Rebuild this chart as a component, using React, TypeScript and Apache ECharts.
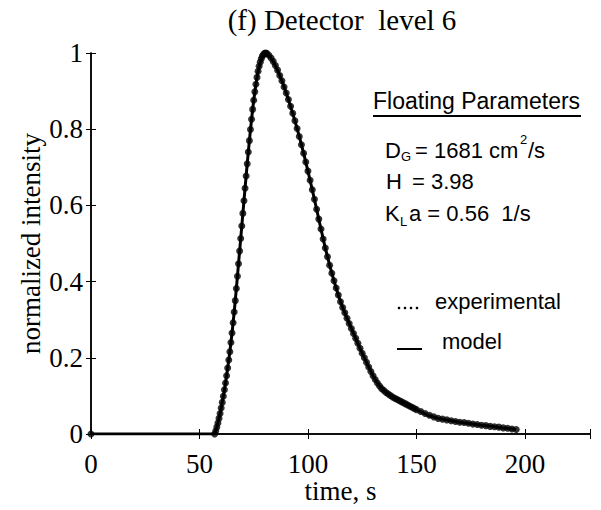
import React, { useEffect, useRef } from "react";
import * as echarts from "echarts";

// ---- Data ----
const expTime = [
  0,
  57, 57.5, 58, 58.5, 59, 59.5, 60, 60.5, 61, 61.5, 62, 62.5, 63, 63.5, 64, 64.5,
  65, 65.5, 66, 66.5, 67, 67.5, 68, 68.5, 69, 69.5, 70, 70.5, 71, 71.5, 72, 72.5,
  73, 73.5, 74, 74.5, 75, 75.5, 76, 76.5, 77, 77.5, 78, 78.5, 79, 79.5, 80, 80.5,
  81, 82, 83, 84, 85, 86, 87, 88, 89, 90, 91, 92, 93, 94, 95, 96, 97, 98, 99, 100,
  101, 102, 103, 104, 105, 106, 107, 108, 109, 110, 111, 112, 113, 114, 115, 116,
  117, 118, 119, 120, 121, 122, 123, 124, 125, 126, 127, 128, 129, 130, 131, 132,
  133, 134, 135, 136, 137, 138, 139, 140, 141, 142, 143, 144, 145, 146, 147, 148,
  149, 150, 152, 154, 156, 158, 160, 162, 164, 166, 168, 170, 172, 174, 176, 178,
  180, 182, 184, 186, 188, 190, 192, 194, 196,
];
const expIntensity = [
  0,
  0.0, 0.008, 0.018, 0.029, 0.041, 0.054, 0.068, 0.083, 0.099, 0.116, 0.134, 0.153, 0.173, 0.194, 0.216, 0.24,
  0.265, 0.292, 0.32, 0.35, 0.382, 0.414, 0.447, 0.48, 0.513, 0.546, 0.579, 0.612, 0.645, 0.677, 0.709, 0.74,
  0.77, 0.799, 0.826, 0.852, 0.876, 0.898, 0.918, 0.936, 0.952, 0.965, 0.976, 0.985, 0.992, 0.996, 0.999, 1.0,
  0.999, 0.994, 0.987, 0.978, 0.967, 0.955, 0.941, 0.927, 0.911, 0.895, 0.878, 0.86, 0.842, 0.822, 0.802, 0.781, 0.759, 0.737, 0.714, 0.69,
  0.666, 0.641, 0.616, 0.59, 0.564, 0.538, 0.512, 0.488, 0.465, 0.443, 0.422, 0.402, 0.383, 0.365, 0.347, 0.332,
  0.318, 0.304, 0.29, 0.277, 0.264, 0.251, 0.238, 0.225, 0.212, 0.2, 0.188, 0.176, 0.164, 0.153, 0.143, 0.134,
  0.126, 0.119, 0.114, 0.109, 0.105, 0.101, 0.097, 0.094, 0.091, 0.088, 0.085, 0.082, 0.079, 0.076, 0.073, 0.07,
  0.067, 0.064, 0.059, 0.054, 0.049, 0.045, 0.041, 0.039, 0.037, 0.035, 0.033, 0.031, 0.03, 0.028, 0.026, 0.025,
  0.023, 0.022, 0.02, 0.019, 0.018, 0.016, 0.015, 0.013, 0.012,
];

const modelTime = [
  0, 57, 58, 59, 60, 61, 62, 63, 64, 65, 66, 67, 68, 69, 70, 71, 72, 73, 74, 75, 76, 77, 78, 79, 80, 80.5,
  82, 84, 86, 88, 90, 92, 94, 96, 98, 100, 102, 104, 106, 108, 110, 112, 114, 116, 118, 120, 122, 124, 126,
  128, 130, 132, 134, 136, 138, 140, 145, 150, 155, 160, 165, 170, 175, 180, 185, 190, 196,
];
const modelIntensity = [
  0, 0, 0.018, 0.041, 0.068, 0.099, 0.134, 0.173, 0.216, 0.265, 0.32, 0.382, 0.447, 0.513, 0.579, 0.645, 0.709, 0.77, 0.826, 0.876, 0.918, 0.952, 0.976, 0.992, 0.999, 1.0,
  0.994, 0.978, 0.955, 0.927, 0.895, 0.86, 0.822, 0.781, 0.737, 0.69, 0.641, 0.59, 0.538, 0.488, 0.443, 0.402, 0.365, 0.332, 0.304, 0.277, 0.251, 0.225, 0.2,
  0.176, 0.153, 0.134, 0.119, 0.109, 0.101, 0.094, 0.079, 0.064, 0.05, 0.041, 0.036, 0.031, 0.027, 0.023, 0.02, 0.016, 0.012,
];

const xTicks = [0, 50, 100, 150, 200];
const yTicks = [0, 0.2, 0.4, 0.6, 0.8, 1];

const titleText = "(f) Detector  level 6";
const xName = "time, s";
const yName = "normalized intensity";

const SERIF = "'Liberation Serif', 'Times New Roman', serif";
const SANS = "'Liberation Sans', Arial, Helvetica, sans-serif";

function txt(x: number, y: number, text: string, size: number, family = SANS, align = "left") {
  return {
    type: "text",
    x,
    y,
    style: {
      text,
      fill: "#000",
      font: `${size}px ${family}`,
      align,
      verticalAlign: "middle",
      textAlign: align,
      textVerticalAlign: "middle",
    },
  };
}

export default function App() {
  const ref = useRef<HTMLDivElement>(null);
  useEffect(() => {
    if (!ref.current) return;
    const chart = echarts.init(ref.current, undefined, { renderer: "svg" });
    const axisLineStyle = { color: "#000", width: 1.5 };
    const labelStyle = { color: "#000", fontFamily: SERIF, fontSize: 27 };
    const xFmt = (v: number) => (xTicks.includes(v) ? String(v) : "");
    const yFmt = (v: number) => {
      const r = Math.round(v * 10) / 10;
      return yTicks.includes(r) ? String(r) : "";
    };
    chart.setOption({
      animation: false,
      backgroundColor: "#fff",
      grid: { left: 91, right: 11, top: 53, bottom: 76, containLabel: false, outerBoundsMode: "none" },
      xAxis: [
        {
          type: "value",
          min: 0,
          max: 230,
          interval: 50,
          position: "bottom",
          axisLine: { show: true, lineStyle: axisLineStyle },
          axisTick: { show: true, inside: true, length: 5, lineStyle: { color: "#000", width: 1 } },
          axisLabel: { ...labelStyle, margin: 16, formatter: xFmt },
          splitLine: { show: false },
          name: xName,
          nameLocation: "middle",
          nameGap: 43,
          nameMoveOverlap: false,
          nameTextStyle: { color: "#000", fontFamily: SERIF, fontSize: 27 },
        },
        {
          type: "value",
          min: 0,
          max: 230,
          interval: 50,
          position: "top",
          axisLine: { show: true, lineStyle: axisLineStyle },
          axisTick: { show: true, inside: true, length: 5, lineStyle: { color: "#000", width: 1 } },
          axisLabel: { show: false },
          splitLine: { show: false },
        },
      ],
      yAxis: [
        {
          type: "value",
          min: 0,
          max: 1,
          interval: 0.2,
          position: "left",
          axisLine: { show: true, lineStyle: axisLineStyle },
          axisTick: { show: true, inside: true, length: 5, lineStyle: { color: "#000", width: 1 } },
          axisLabel: { ...labelStyle, margin: 8, formatter: yFmt },
          splitLine: { show: false },
          name: yName,
          nameLocation: "middle",
          nameGap: 47,
          nameMoveOverlap: false,
          nameTextStyle: { color: "#000", fontFamily: SERIF, fontSize: 27 },
        },
        {
          type: "value",
          min: 0,
          max: 1,
          interval: 0.2,
          position: "right",
          axisLine: { show: true, lineStyle: axisLineStyle },
          axisTick: { show: true, inside: true, length: 5, lineStyle: { color: "#000", width: 1 } },
          axisLabel: { show: false },
          splitLine: { show: false },
        },
      ],
      series: [
        {
          name: "model",
          type: "line",
          xAxisIndex: 0,
          yAxisIndex: 0,
          data: modelTime.map((t, i) => [t, modelIntensity[i]]),
          showSymbol: false,
          symbol: "none",
          lineStyle: { color: "#000", width: 3 },
          z: 2,
        },
        {
          name: "experimental",
          type: "scatter",
          xAxisIndex: 0,
          yAxisIndex: 0,
          data: expTime.map((t, i) => [t, expIntensity[i]]),
          symbol: "circle",
          symbolSize: 7,
          itemStyle: { color: "#000" },
          z: 3,
        },
      ],
      graphic: [
        txt(342, 20, titleText, 29, SERIF, "center"),
        txt(373, 101, "Floating Parameters", 23),
        {
          type: "line",
          shape: { x1: 373, y1: 116, x2: 581, y2: 116 },
          style: { stroke: "#000", lineWidth: 2 },
        },
        txt(385, 150, "D", 22),
        txt(401, 156, "G", 13),
        txt(415, 150, "= 1681 cm", 22),
        txt(520, 139, "2", 13),
        txt(528, 150, "/s", 22),
        txt(386, 181, "H", 22),
        txt(412, 181, "= 3.98", 22),
        txt(385, 213, "K", 22),
        txt(400, 221, "L", 13),
        txt(409, 213, "a = 0.56  1/s", 22),
        { type: "circle", shape: { cx: 399, cy: 308, r: 1.3 }, style: { fill: "#000" } },
        { type: "circle", shape: { cx: 405, cy: 308, r: 1.3 }, style: { fill: "#000" } },
        { type: "circle", shape: { cx: 411, cy: 308, r: 1.3 }, style: { fill: "#000" } },
        { type: "circle", shape: { cx: 417, cy: 308, r: 1.3 }, style: { fill: "#000" } },
        txt(435, 301, "experimental", 22),
        {
          type: "line",
          shape: { x1: 397, y1: 349, x2: 422, y2: 349 },
          style: { stroke: "#000", lineWidth: 2 },
        },
        txt(442, 341, "model", 22),
      ],
    });
    return () => chart.dispose();
  }, []);
  return <div ref={ref} style={{ width: 601, height: 510, position: "absolute", left: 0, top: 0 }} />;
}
